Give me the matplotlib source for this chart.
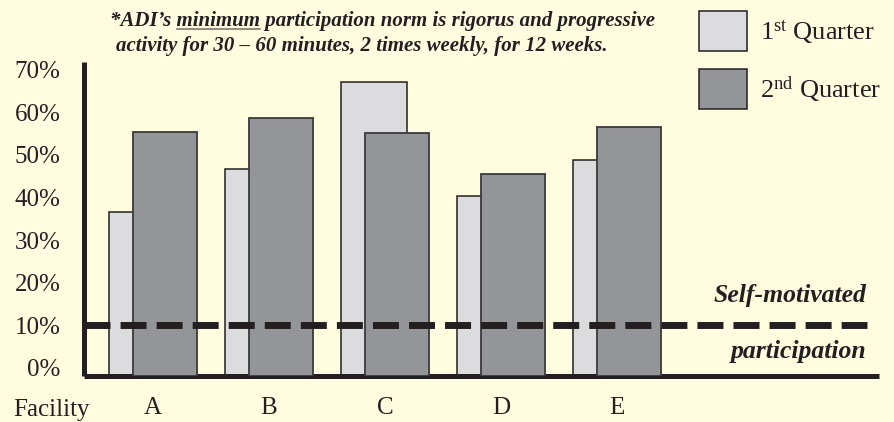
import numpy as np
import matplotlib
matplotlib.use("Agg")
import matplotlib.pyplot as plt
from matplotlib.patches import Rectangle

# data (percent)
facilities = ["A", "B", "C", "D", "E"]
q1 = [36.5, 46.7, 67.1, 40.4, 48.8]
q2 = [55.4, 58.6, 55.2, 45.6, 56.6]
norm = 10
yticks = [0, 10, 20, 30, 40, 50, 60, 70]

BG = "#FFFCE0"
C1 = "#DCDCDE"
C2 = "#949598"
INK = "#231F20"
SERIF = ["Liberation Serif", "DejaVu Serif"]

plt.rcParams["font.family"] = SERIF
plt.rcParams["mathtext.fontset"] = "custom"
plt.rcParams["mathtext.rm"] = "Liberation Serif"
plt.rcParams["mathtext.it"] = "Liberation Serif:italic"
plt.rcParams["mathtext.bf"] = "Liberation Serif:bold"

W, H = 895, 422
fig = plt.figure(figsize=(W / 100, H / 100), dpi=100, facecolor=BG)
ax = fig.add_axes([84 / W, 1 - 376 / H, (879 - 84) / W, (376 - 62) / H])
ax.set_facecolor(BG)

x = np.arange(len(facilities))
ybot = -1.88
ax.bar(x - 0.095, np.array(q1) - ybot, bottom=ybot, width=0.57,
       color=C1, edgecolor=INK, linewidth=1.1, zorder=2)
ax.bar(x + 0.106, np.array(q2) - ybot, bottom=ybot, width=0.552,
       color=C2, edgecolor="#3a3a3a", linewidth=1.3, zorder=3)

# self-motivated participation line
ax.plot([-0.595, 6.155], [norm, norm], color=INK, lw=5.0,
        linestyle=(0, (3.744, 1.448)), solid_capstyle="butt",
        dash_capstyle="butt", zorder=4, clip_on=False)
ax.text(6.155, 17.0, "Self-motivated", ha="right", va="center",
        fontsize=18.5, fontweight="bold", style="italic", color=INK)
ax.text(6.155, 3.8, "participation", ha="right", va="center",
        fontsize=18.5, fontweight="bold", style="italic", color=INK)

ax.set_xlim(-0.595, 6.26)
ax.set_ylim(ybot, 71.8)
ax.set_yticks(yticks)
ax.set_yticklabels([f"{v}%" for v in yticks], fontsize=18, color=INK)
ax.set_xticks(x)
ax.set_xticklabels(facilities, fontsize=18, color=INK)
ax.tick_params(axis="y", length=0, pad=17)
ax.tick_params(axis="x", length=0, pad=15)
for s in ["top", "right"]:
    ax.spines[s].set_visible(False)
for s in ["left", "bottom"]:
    ax.spines[s].set_linewidth(3.6)
    ax.spines[s].set_color(INK)
    ax.spines[s].set_capstyle("butt")

fig.text(13 / W, 1 - 410 / H, "Facility", ha="left", va="center",
         fontsize=18, color=INK)

# note at the top, with "minimum" underlined
note_kw = dict(fontsize=15, fontweight="bold", style="italic", color=INK,
               va="baseline", ha="left")
x0, yb1 = 110 / W, 1 - 26 / H
fig.text(x0, yb1, "*ADI\u2019s minimum participation norm is rigorus and progressive", **note_kw)
fig.text(116 / W, 1 - 51 / H, "activity for 30 \u2013 60 minutes, 2 times weekly, for 12 weeks.", **note_kw)
fig.canvas.draw()
r = fig.canvas.get_renderer()
t_pre = fig.text(x0, yb1, "*ADI\u2019s ", **note_kw)
t_min = fig.text(x0, yb1, "*ADI\u2019s minimum", **note_kw)
w_pre = t_pre.get_window_extent(r).width
w_min = t_min.get_window_extent(r).width
t_pre.remove()
t_min.remove()
uy = yb1 - 3 / H
fig.add_artist(plt.Line2D([x0 + w_pre / W, x0 + w_min / W], [uy, uy],
                          color="#7a7a70", lw=1.2))

# legend
for (top, col, lab) in [(11, C1, "1$^{\\mathrm{st}}$ Quarter"),
                        (69, C2, "2$^{\\mathrm{nd}}$ Quarter")]:
    fig.add_artist(Rectangle((699 / W, 1 - (top + 40) / H), 48 / W, 40 / H,
                             facecolor=col, edgecolor=INK, lw=1.1))
    fig.text(760 / W, 1 - (top + 21) / H, lab, ha="left", va="center",
             fontsize=19, color=INK)

fig.savefig("out.png", dpi=100, facecolor=BG)
